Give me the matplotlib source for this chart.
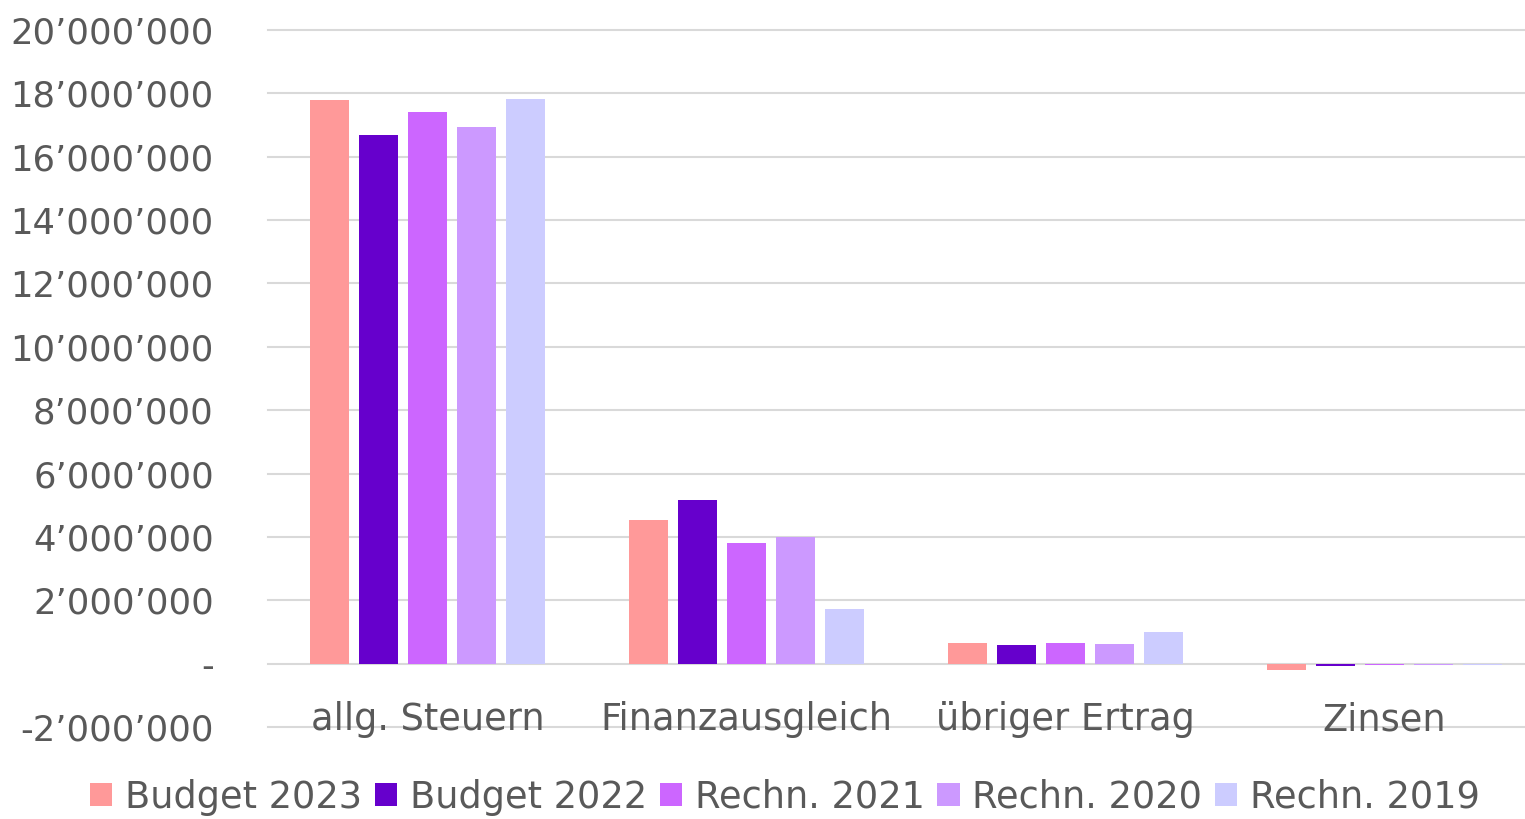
import matplotlib
matplotlib.use("Agg")
import matplotlib.pyplot as plt
import matplotlib.transforms as mtrans
import numpy as np
from matplotlib.ticker import FuncFormatter
from matplotlib.patches import Patch

categories = ["allg. Steuern", "Finanzausgleich", "übriger Ertrag", "Zinsen"]
series_names = ["Budget 2023", "Budget 2022", "Rechn. 2021", "Rechn. 2020", "Rechn. 2019"]
budget_2023 = [17_790_000, 4_520_000, 640_000, -200_000]
budget_2022 = [16_680_000, 5_150_000, 600_000, -60_000]
rechn_2021 = [17_410_000, 3_820_000, 650_000, -30_000]
rechn_2020 = [16_940_000, 4_010_000, 610_000, -30_000]
rechn_2019 = [17_820_000, 1_710_000, 990_000, -40_000]
colors = ["#FF9999", "#6600CC", "#CC66FF", "#CC99FF", "#CCCCFF"]
yticks = list(range(-2_000_000, 20_000_001, 2_000_000))

series = [budget_2023, budget_2022, rechn_2021, rechn_2020, rechn_2019]

plt.rcParams['font.family'] = ['DejaVu Sans']
txt = "#595959"
fs = 25.5
fs2 = 26.5

fig = plt.figure(figsize=(15.25, 8.19), dpi=100)
ax = fig.add_axes([268/1525, 1-727/819, 1-268/1525, (727-30)/819])

x = np.arange(len(categories))
step = 49/319
width = 39/319
for i, (vals, c, name) in enumerate(zip(series, colors, series_names)):
    ax.bar(x + (i-2)*step, vals, width=width, color=c, label=name, zorder=3)

ax.set_xlim(-0.5, -0.5 + (1525-267.5)/319)
ax.set_ylim(-2_000_000, 20_000_000)
ax.set_yticks(yticks)

def fmt(v, pos):
    if v == 0:
        return "-"
    s = f"{int(abs(v)):,}".replace(",", "\u2019")
    return ("-" if v < 0 else "") + s

ax.yaxis.set_major_formatter(FuncFormatter(fmt))
ax.tick_params(axis='y', length=0, labelsize=fs, labelcolor=txt, pad=39)
ax.tick_params(axis='x', length=0, labelbottom=False)
ax.grid(axis='y', color='#d9d9d9', linewidth=1.5, zorder=0)
for gl in ax.get_ygridlines():
    gl.set_clip_on(False)
for s in ax.spines.values():
    s.set_visible(False)

tr = mtrans.blended_transform_factory(ax.transData, fig.transFigure)
for xi, cat in zip(x, categories):
    ax.text(xi, 1 - 720/819, cat, transform=tr,
            fontsize=fs2, color=txt, ha='center', va='center')

handles = [Patch(facecolor=c, label=n) for c, n in zip(colors, series_names)]
fig.legend(handles=handles, loc='center', bbox_to_anchor=(785/1525, 1-797/819), ncol=5,
           frameon=False, fontsize=fs2, labelcolor=txt, handlelength=0.6, handleheight=0.6,
           handletextpad=0.35, columnspacing=0.35, borderaxespad=0, borderpad=0)

fig.savefig("out.png", dpi=100)
